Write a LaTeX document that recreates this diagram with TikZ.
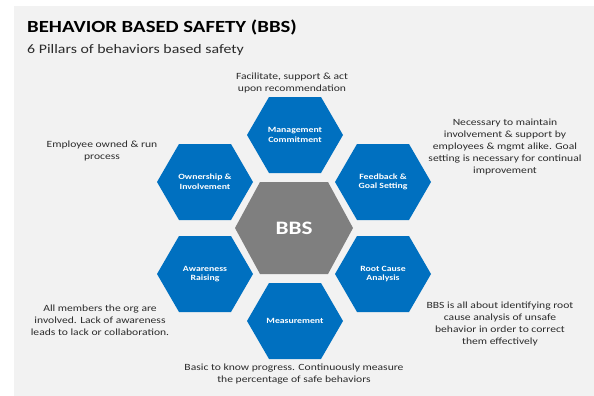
\documentclass[tikz,border=0pt]{standalone}
\usepackage{fontspec}
\setmainfont{Carlito}[FakeStretch=1.22]
\usepackage{tikz}
\usetikzlibrary{positioning}

\definecolor{pillarblue}{HTML}{0070C0}
\definecolor{bbsgrey}{HTML}{7F7F7F}
\definecolor{bggrey}{HTML}{F2F2F2}
\definecolor{notegrey}{HTML}{2B2B2B}

\tikzset{
  pillar/.style={align=center, text=white, font=\fontsize{8}{9.6}\selectfont\bfseries},
  note/.style={align=center, text=notegrey, font=\fontsize{9.5}{12}\selectfont},
}

\begin{document}
\begin{tikzpicture}[x=1pt,y=-1pt]
\useasboundingbox (0,0) rectangle (594,396);
% slide background
\fill[bggrey] (14,6) rectangle (594,396);

% heading
\node[anchor=base west, inner sep=0pt, font=\fontsize{17}{20}\selectfont\bfseries] (title) at (27,33) {BEHAVIOR BASED SAFETY (BBS)};
\node[anchor=base west, inner sep=0pt, text=notegrey, font=\fontsize{13}{15}\selectfont] (subtitle) at (27,53) {6 Pillars of behaviors based safety};

% six blue hexagons around the middle one
\foreach \cx/\cy in {295/135, 205/182, 383/182, 205/274, 383/274, 295/321}
  \fill[pillarblue] (\cx-48,\cy) -- (\cx-26,\cy-38) -- (\cx+26,\cy-38) -- (\cx+48,\cy)
    -- (\cx+26,\cy+38) -- (\cx-26,\cy+38) -- cycle;
% middle hexagon
\fill[bbsgrey] (235,228) -- (260,182) -- (328,182) -- (353,228) -- (328,274) -- (260,274) -- cycle;

\node[text=white, font=\fontsize{19}{22}\selectfont\bfseries] (bbs) at (294,228) {BBS};
\node[pillar] (mgmt) at (295,135) {Management\\Commitment};
\node[pillar] (own) at (205,182) {Ownership \&\\Involvement};
\node[pillar] (feed) at (383,182) {Feedback \&\\Goal Setting};
\node[pillar] (aware) at (205,274) {Awareness\\Raising};
\node[pillar] (root) at (383,274) {Root Cause\\Analysis};
\node[pillar] (meas) at (295,321) {Measurement};

% notes next to the pillars
\node[note] (mgmtnote) at (292,83) {Facilitate, support \& act\\upon recommendation};
\node[note] (ownnote) at (102,151) {Employee owned \& run\\process};
\node[note] (feednote) at (505,147) {Necessary to maintain\\involvement \& support by\\employees \& mgmt alike. Goal\\setting is necessary for continual\\improvement};
\node[note] (awarenote) at (100,320) {All members the org are\\involved. Lack of awareness\\leads to lack or collaboration.};
\node[note] (rootnote) at (500,323.5) {BBS is all about identifying root\\cause analysis of unsafe\\behavior in order to correct\\them effectively};
\node[note] (measnote) at (294,374) {Basic to know progress. Continuously measure\\the percentage of safe behaviors};

\end{tikzpicture}
\end{document}
